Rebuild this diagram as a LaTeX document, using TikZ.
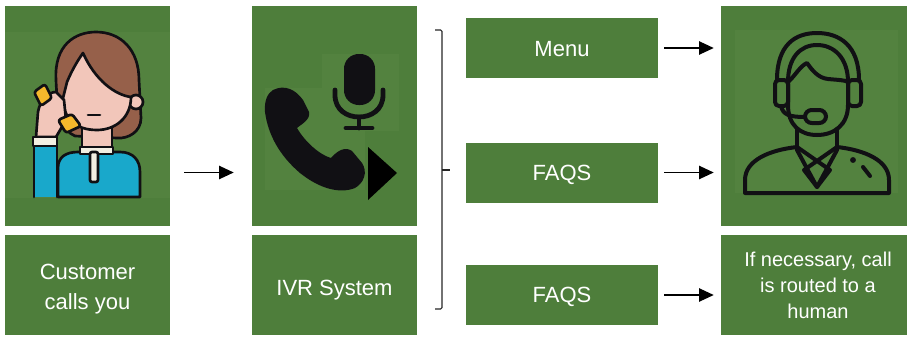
\documentclass[tikz,border=0pt]{standalone}
\usepackage{fontspec}
\setmainfont{Liberation Sans}
\usetikzlibrary{positioning,arrows.meta}
\definecolor{boxgreen}{HTML}{4E7E3B}
\definecolor{panelgreen}{HTML}{53823F}
\definecolor{hairbrown}{HTML}{96604A}
\definecolor{skin}{HTML}{F2C6BA}
\definecolor{shirt}{HTML}{19A8CB}
\definecolor{cream}{HTML}{F3EFE2}
\definecolor{handset}{HTML}{F5B82C}
\definecolor{inkblack}{HTML}{111014}
\newcommand\boxfont{\fontsize{16.5}{22.5}\selectfont}
\newcommand\smallboxfont{\fontsize{15}{19.5}\selectfont}
\tikzset{
  tile/.style={fill=boxgreen, inner sep=0pt},
  tiletext/.style={text=white, align=center, font=\boxfont},
  flow/.style={-{Triangle[length=11pt,width=10pt]}, line width=1pt, black},
  ink/.style={draw=inkblack, line width=2pt, line join=round, line cap=round},
  agentline/.style={draw=inkblack, line width=3pt, line join=round, line cap=round},
}

\begin{document}
\begin{tikzpicture}[x=0.75pt,y=-0.75pt]
\useasboundingbox (0,0) rectangle (907,336);
% boxes
\node[tile, minimum width=123.75pt, minimum height=165pt] (custpic) at (87.5,116) {};
\node[tile, minimum width=123.75pt, minimum height=75pt,
  label={[tiletext, yshift=-3pt]center:Customer\\calls you}] (custtxt) at (87.5,285) {};
\node[tile, minimum width=123.75pt, minimum height=165pt] (ivrpic) at (334.5,116) {};
\node[tile, minimum width=123.75pt, minimum height=75pt,
  label={[tiletext, yshift=-4pt]center:IVR System}] (ivrtxt) at (334.5,285) {};
\node[tile, minimum width=144pt, minimum height=45pt,
  label={[tiletext, yshift=-0.75pt]center:Menu}] (menu) at (562,48) {};
\node[tile, minimum width=144pt, minimum height=45pt,
  label={[tiletext, yshift=-1.5pt]center:FAQS}] (faqa) at (562,172.5) {};
\node[tile, minimum width=144pt, minimum height=45pt,
  label={[tiletext, yshift=-1.5pt]center:FAQS}] (faqb) at (562,295) {};
\node[tile, minimum width=139.5pt, minimum height=165pt] (agentpic) at (814,116) {};
\node[tile, minimum width=139.5pt, minimum height=75pt,
  label={[tiletext, font=\smallboxfont, xshift=3pt]center:If necessary, call\\is routed to a\\human}] (agenttxt) at (814,285) {};

% customer on the phone
\fill[panelgreen] (5,32) rectangle (170,198);
\filldraw[ink, fill=hairbrown] (56,80) .. controls (54,45) and (75,32) .. (96,32) .. controls (121,32) and (139,50) .. (139,80) -- (141,118) .. controls (141,132) and (128,139) .. (117,138) -- (75,136) .. controls (62,131) and (57,110) .. (56,80) -- cycle;
\filldraw[ink, fill=skin] (136,102) circle (5.25pt);
\filldraw[ink, fill=skin] (82,126) rectangle (112,150);
\filldraw[ink, fill=skin] (63,98) -- (67,82) .. controls (72,70) and (78,60) .. (83,53) .. controls (95,80) and (115,95) .. (131,97) .. controls (131,118) and (115,130) .. (97,130) .. controls (75,130) and (63,118) .. (63,98) -- cycle;
\draw[ink] (88,115) -- (100,115);
\filldraw[ink, fill=shirt] (58,197) -- (58,168) .. controls (58,157) and (66,152) .. (78,152) -- (120,152) .. controls (133,152) and (140,160) .. (140,172) -- (140,197) -- cycle;
\filldraw[ink, fill=cream] (80,147) rectangle (113,154);
\filldraw[ink, fill=cream, rounded corners=1.5pt] (90,152) rectangle (98,182);
\filldraw[ink, fill=shirt] (34,197) -- (34,145) -- (57,145) -- (57,197);
\filldraw[ink, fill=skin] (36,137) -- (38,112) .. controls (40,100) and (48,92) .. (56,92) -- (64,100) -- (66,120) -- (56,137) -- cycle;
\filldraw[ink, fill=cream] (33,137) rectangle (57,146);
\filldraw[ink, fill=handset, rounded corners=2pt] (34,92) -- (45,84) -- (52,98) -- (41,106) -- cycle;
\filldraw[ink, fill=handset, rounded corners=2pt] (58,120) -- (72,114) -- (81,126) -- (66,133) -- cycle;

% IVR: handset, microphone, play mark
\fill[panelgreen] (322,54) rectangle (399,131);
\fill[panelgreen] (265,88) rectangle (365,190);
\fill[inkblack] (273,90) .. controls (285,84) and (296,90) .. (303,100) -- (309,112) .. controls (311,120) and (300,125) .. (297,128) .. controls (305,142) and (320,155) .. (331,158) .. controls (337,151) and (345,146) .. (352,151) -- (362,163) .. controls (368,172) and (364,183) .. (355,188) .. controls (340,194) and (320,189) .. (300,173) .. controls (280,156) and (268,135) .. (265,112) .. controls (264,100) and (268,93) .. (273,90) -- cycle;
\fill[inkblack, rounded corners=11pt] (344,54) rectangle (375,105);
\draw[inkblack, line width=3.6pt, line cap=round] (335,90) -- (335,95) .. controls (335,110) and (347,117) .. (359,117) .. controls (371,117) and (383,110) .. (383,95) -- (383,90);
\draw[inkblack, line width=3.6pt, line cap=round] (359,117) -- (359,128) (346,128) -- (372,128);
\fill[black] (368,147) -- (368,200) -- (397,173) -- cycle;

% agent with headset
\fill[panelgreen] (735,30) rectangle (898,193);
\draw[agentline] (777,80) .. controls (777,45) and (795,33) .. (817,33) .. controls (839,33) and (859,45) .. (859,80);
\draw[agentline] (788,82) .. controls (788,58) and (800,45) .. (817,45) .. controls (834,45) and (848,58) .. (848,82);
\draw[agentline, rounded corners=3pt] (775,80) rectangle (788,106);
\draw[agentline, rounded corners=3pt] (848,80) rectangle (861,106);
\draw[agentline] (788,82) -- (788,105) .. controls (788,125) and (800,135) .. (817,135) .. controls (834,135) and (848,125) .. (848,105) -- (848,82);
\draw[agentline] (788,82) .. controls (795,76) and (800,66) .. (807,63) .. controls (812,70) and (818,78) .. (828,79) .. controls (838,80) and (845,80) .. (848,82);
\draw[agentline] (781,106) .. controls (783,115) and (790,117) .. (805,117);
\draw[agentline, rounded corners=5pt] (805,110) rectangle (826,123);
\draw[agentline] (797,129) -- (797,147) (837,129) -- (837,147);
\draw[agentline] (797,147) .. controls (770,150) and (745,160) .. (745,180) -- (745,193) -- (889,193) -- (889,180) .. controls (889,160) and (864,150) .. (837,147);
\draw[agentline] (797,147) -- (830,170) -- (817,187) -- (804,170) -- (837,147);
\draw[agentline] (797,150) -- (817,187) -- (837,150);
\fill[inkblack] (853,160) circle (2.2pt);
\draw[agentline] (863,167) -- (870,176);

% bracket grouping the options
\draw[line width=0.8pt, black!85, rounded corners=1pt] (435,30) -- (442,30) -- (442,309) -- (435,309);
\draw[line width=0.8pt, black!85] (442,170) -- (450,170);

% arrows
\draw[flow, shorten <=10.5pt, shorten >=13.5pt] (custpic.east |- faqa) -- (ivrpic.west |- faqa);
\draw[flow, shorten <=4.5pt, shorten >=5.25pt] (menu) -- (menu -| agentpic.west);
\draw[flow, shorten <=4.5pt, shorten >=5.25pt] (faqa) -- (faqa -| agentpic.west);
\draw[flow, shorten <=4.5pt, shorten >=5.25pt] (faqb) -- (faqb -| agenttxt.west);
\end{tikzpicture}
\end{document}
